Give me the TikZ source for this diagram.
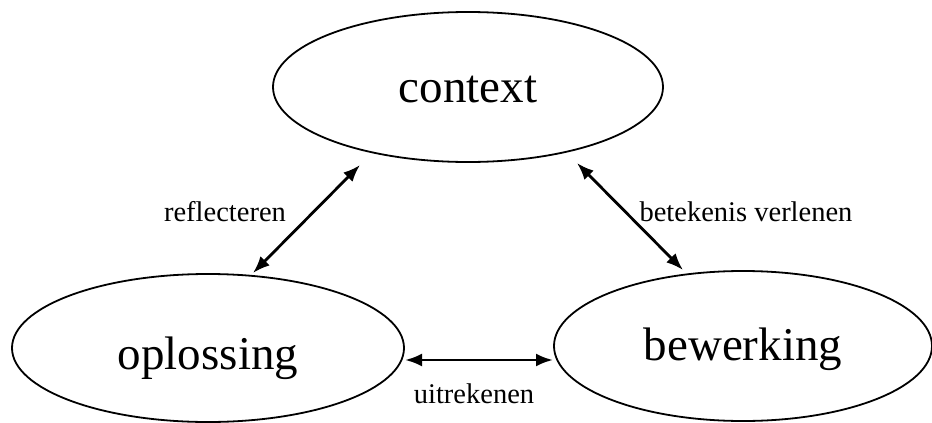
\documentclass[tikz,border=0pt]{standalone}
\usepackage{fontspec}
\setmainfont{Liberation Serif}
\usetikzlibrary{arrows.meta,shapes.geometric}
\begin{document}
\begin{tikzpicture}[x=1pt,y=-1pt,
  state/.style={draw,line width=1.8pt,ellipse,inner sep=0pt,text depth=0pt,
    font=\fontsize{47}{50}\selectfont},
  link/.style={line width=2.8pt,{Latex[length=17pt,width=13pt]}-{Latex[length=17pt,width=13pt]}},
  lab/.style={anchor=base,inner sep=0pt,font=\fontsize{28.5}{30}\selectfont}]
\useasboundingbox (0,0) rectangle (932,423);
\node[state,minimum width=390pt,minimum height=150pt,text height=30pt] (ctx) at (468,87) {context};
\node[state,minimum width=392pt,minimum height=148pt,text height=42pt] (op) at (208,348) {oplossing};
\node[state,minimum width=378pt,minimum height=150pt,text height=28pt] (bew) at (743,346) {bewerking};
\draw[link] ([shift={(-108,78)}]ctx.center) -- ([shift={(45,-75)}]op.center);
\draw[link] ([shift={(109,76)}]ctx.center) -- ([shift={(-60,-76)}]bew.center);
\draw[link] ([shift={(197,12)}]op.center) -- ([shift={(-190,14)}]bew.center);
\node[lab] (l1) at (225,221) {reflecteren};
\node[lab] (l2) at (746,221) {betekenis verlenen};
\node[lab] (l3) at (474,403) {uitrekenen};
\end{tikzpicture}
\end{document}
